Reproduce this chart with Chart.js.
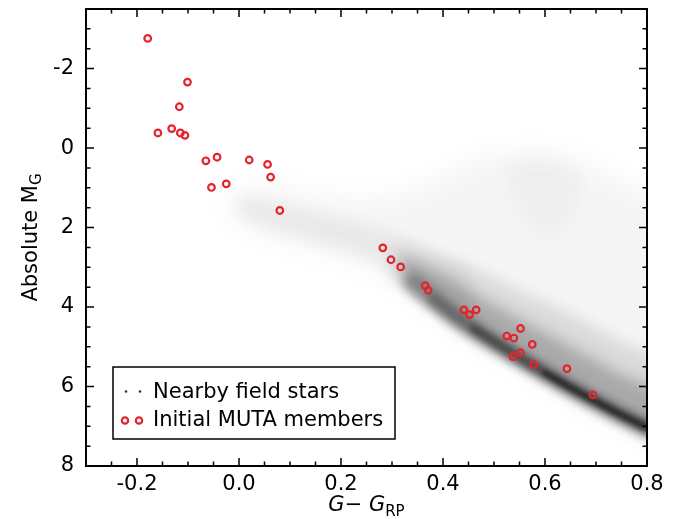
<!DOCTYPE html>
<html>
<head>
<meta charset="utf-8">
<script src="https://cdn.jsdelivr.net/npm/chart.js@4.4.1/dist/chart.umd.min.js"></script>
<style>
  html, body { margin: 0; padding: 0; background: #fff; }
  #cmd { display: block; }
</style>
</head>
<body>
<canvas id="cmd" width="694" height="519"></canvas>
<script>
// Gaia colour-magnitude diagram: field stars vs. initial MUTA members
const xTicks = [-0.2, 0.0, 0.2, 0.4, 0.6, 0.8];
const yTicks = [-2, 0, 2, 4, 6, 8];

// initial MUTA members (G - G_RP, M_G)
const memberColour = [
  -0.179, -0.101, -0.117, -0.159, -0.132, -0.115, -0.106, -0.065,
  -0.043, -0.054, -0.025, 0.020, 0.056, 0.062, 0.080, 0.282,
  0.298, 0.317, 0.365, 0.371, 0.441, 0.452, 0.465, 0.525,
  0.539, 0.552, 0.575, 0.552, 0.537, 0.578, 0.643, 0.694
];
const memberMag = [
  -2.76, -1.66, -1.04, -0.38, -0.49, -0.38, -0.32, 0.32,
  0.23, 0.99, 0.90, 0.30, 0.41, 0.73, 1.57, 2.51,
  2.81, 2.99, 3.46, 3.58, 4.07, 4.19, 4.07, 4.73,
  4.78, 4.54, 4.94, 5.15, 5.25, 5.45, 5.55, 6.21
];

// nearby field stars, as density outlines [colour, M_G]
const fieldHaze = [
  [-0.02, 1.15], [0.03, 0.95], [0.10, 1.05], [0.20, 1.25], [0.28, 1.25],
  [0.34, 1.05], [0.41, 0.6], [0.47, 0.25], [0.54, 0.1], [0.62, 0.1], [0.70, 0.5],
  [0.76, 0.9], [0.86, 1.4], [0.86, 7.6], [0.80, 7.3], [0.70, 6.65], [0.60, 5.9],
  [0.50, 5.15], [0.42, 4.5], [0.36, 3.9], [0.30, 3.3], [0.22, 2.85], [0.12, 2.45],
  [0.03, 2.1], [-0.02, 1.75]
];
const fieldGiants = [
  [0.52, 0.5], [0.56, 0.2], [0.62, 0.25], [0.67, 0.7], [0.66, 1.6], [0.62, 2.3],
  [0.57, 2.0], [0.53, 1.2]
];
const fieldUpperMS = [
  [0.0, 1.2], [0.05, 1.3], [0.15, 1.6], [0.25, 1.9], [0.32, 2.2], [0.38, 2.6],
  [0.45, 3.1], [0.45, 4.6], [0.38, 3.95], [0.32, 3.3], [0.25, 2.8], [0.15, 2.4],
  [0.05, 2.0], [0.0, 1.7]
];
const fieldBandOuter = [
  [0.30, 2.4], [0.38, 2.7], [0.45, 3.0], [0.55, 3.6], [0.65, 4.2], [0.75, 4.9],
  [0.86, 5.6], [0.86, 7.6], [0.75, 6.9], [0.65, 6.2], [0.55, 5.45], [0.45, 4.7],
  [0.38, 4.0], [0.30, 3.25]
];
const fieldBandInner = [
  [0.32, 2.75], [0.38, 3.1], [0.45, 3.6], [0.55, 4.3], [0.65, 5.0], [0.75, 5.7],
  [0.86, 6.4], [0.86, 7.5], [0.75, 6.85], [0.65, 6.15], [0.55, 5.4], [0.45, 4.65],
  [0.38, 4.0], [0.32, 3.35]
];
// main-sequence ridge line
const ridgeColour = [0.34, 0.38, 0.42, 0.46, 0.50, 0.55, 0.60, 0.65, 0.70, 0.75, 0.80, 0.86];
const ridgeMag = [3.4, 3.8, 4.2, 4.55, 4.88, 5.28, 5.66, 6.03, 6.38, 6.72, 7.03, 7.38];

const FONT = '"DejaVu Sans", "Liberation Sans", sans-serif';
const RED = 'rgb(228, 36, 44)';

const toPoints = (pairs) => pairs.map(([x, y]) => ({ x, y }));
const ridgePoints = ridgeColour.map((x, i) => ({ x, y: ridgeMag[i] }));

function densityShape(pairs, alpha, blur) {
  return {
    data: toPoints(pairs),
    showLine: true,
    fill: 'shape',
    backgroundColor: `rgba(0,0,0,${alpha})`,
    borderColor: 'rgba(0,0,0,0)',
    borderWidth: 0,
    pointRadius: 0,
    tension: 0.3,
    blur: blur,
  };
}

function ridgeLine(points, width, alpha, blur) {
  return {
    data: points,
    showLine: true,
    fill: false,
    borderColor: `rgba(0,0,0,${alpha})`,
    borderWidth: width,
    borderCapStyle: 'round',
    borderJoinStyle: 'round',
    pointRadius: 0,
    tension: 0.4,
    blur: blur,
  };
}

// soften field-star layers; must run before the filler so fills get blurred too
const softLayers = {
  id: 'softLayers',
  beforeDatasetDraw(chart, args) {
    const ds = chart.data.datasets[args.index];
    if (ds.blur) {
      chart.ctx.save();
      chart.ctx.filter = `blur(${ds.blur}px)`;
    }
  },
  afterDatasetDraw(chart, args) {
    const ds = chart.data.datasets[args.index];
    if (ds.blur) chart.ctx.restore();
  },
};
const filler = Chart.registry.getPlugin('filler');
Chart.unregister(filler);
Chart.register(softLayers, filler);

// inward ticks on all four sides, frame, axis titles and legend box
const frameAndLegend = {
  id: 'frameAndLegend',
  afterDatasetsDraw(chart) {
    const { ctx, chartArea: a, scales: { x, y } } = chart;
    ctx.save();
    ctx.strokeStyle = '#000';
    ctx.lineWidth = 1.5;
    const tickX = (v, len) => {
      const p = x.getPixelForValue(v);
      ctx.beginPath();
      ctx.moveTo(p, a.bottom); ctx.lineTo(p, a.bottom - len);
      ctx.moveTo(p, a.top); ctx.lineTo(p, a.top + len);
      ctx.stroke();
    };
    const tickY = (v, len) => {
      const p = y.getPixelForValue(v);
      ctx.beginPath();
      ctx.moveTo(a.left, p); ctx.lineTo(a.left + len, p);
      ctx.moveTo(a.right, p); ctx.lineTo(a.right - len, p);
      ctx.stroke();
    };
    xTicks.forEach((v) => tickX(v, 8));
    yTicks.forEach((v) => tickY(v, 8));
    for (let k = -5; k < 16; k++) if (k % 4 !== 0) tickX(k * 0.05, 4.5);
    for (let k = -6; k < 16; k++) if (k % 4 !== 0) tickY(k * 0.5, 4.5);

    ctx.lineWidth = 2;
    ctx.strokeRect(a.left, a.top, a.right - a.left, a.bottom - a.top);

    // x title: G - G_RP
    ctx.fillStyle = '#000';
    ctx.textBaseline = 'alphabetic';
    ctx.textAlign = 'left';
    const parts = [
      { t: 'G', f: `italic 21px ${FONT}`, dy: 0 },
      { t: '\u2212 ', f: `21px ${FONT}`, dy: 0 },
      { t: 'G', f: `italic 21px ${FONT}`, dy: 0 },
      { t: 'RP', f: `15px ${FONT}`, dy: 5 },
    ];
    let total = 0;
    parts.forEach((p) => { ctx.font = p.f; p.w = ctx.measureText(p.t).width; total += p.w; });
    let cx = (a.left + a.right) / 2 - total / 2;
    parts.forEach((p) => { ctx.font = p.f; ctx.fillText(p.t, cx, 511 + p.dy); cx += p.w; });

    // y title: Absolute M_G
    ctx.save();
    ctx.translate(37, (a.top + a.bottom) / 2);
    ctx.rotate(-Math.PI / 2);
    ctx.font = `21px ${FONT}`;
    const w1 = ctx.measureText('Absolute M').width;
    ctx.font = `15px ${FONT}`;
    const w2 = ctx.measureText('G').width;
    const sx = -(w1 + w2) / 2;
    ctx.font = `21px ${FONT}`;
    ctx.fillText('Absolute M', sx, 0);
    ctx.font = `15px ${FONT}`;
    ctx.fillText('G', sx + w1, 4);
    ctx.restore();

    // legend
    ctx.fillStyle = '#fff';
    ctx.fillRect(113, 367, 282, 72);
    ctx.lineWidth = 1.5;
    ctx.strokeRect(113, 367, 282, 72);
    ctx.fillStyle = '#333';
    [126, 140].forEach((px) => {
      ctx.beginPath(); ctx.arc(px, 391.5, 1.3, 0, Math.PI * 2); ctx.fill();
    });
    ctx.strokeStyle = RED;
    ctx.lineWidth = 2.2;
    [125, 139].forEach((px) => {
      ctx.beginPath(); ctx.arc(px, 420.5, 3.2, 0, Math.PI * 2); ctx.stroke();
    });
    ctx.fillStyle = '#000';
    ctx.font = `21px ${FONT}`;
    ctx.fillText('Nearby field stars', 153, 398);
    ctx.fillText('Initial MUTA members', 153, 426);
    ctx.restore();
  },
};

new Chart(document.getElementById('cmd'), {
  type: 'scatter',
  data: {
    datasets: [
      {
        label: 'Initial MUTA members',
        data: memberColour.map((x, i) => ({ x, y: memberMag[i] })),
        pointRadius: 3.3,
        pointBorderWidth: 2.2,
        pointBorderColor: RED,
        pointBackgroundColor: 'rgba(0,0,0,0)',
      },
      ridgeLine(ridgePoints.slice(6), 6, 0.45, 2),
      ridgeLine(ridgePoints.slice(3), 9, 0.35, 3),
      ridgeLine(ridgePoints.slice(1), 11, 0.25, 4),
      ridgeLine(ridgePoints, 18, 0.25, 5),
      densityShape(fieldBandInner, 0.22, 7),
      densityShape(fieldBandOuter, 0.12, 9),
      densityShape(fieldUpperMS, 0.05, 8),
      densityShape(fieldGiants, 0.03, 10),
      densityShape(fieldHaze, 0.04, 12),
    ],
  },
  options: {
    responsive: false,
    animation: false,
    events: [],
    layout: { padding: { top: 9, right: 47, left: 0, bottom: 0 } },
    plugins: {
      legend: { display: false },
      tooltip: { enabled: false },
    },
    scales: {
      x: {
        type: 'linear',
        min: -0.3,
        max: 0.8,
        afterBuildTicks: (axis) => { axis.ticks = xTicks.map((v) => ({ value: v })); },
        afterFit: (axis) => {
          axis.height = 53;
          axis.paddingLeft = 0;
          axis.paddingRight = 0;
        },
        grid: { display: false, drawTicks: false },
        border: { display: false },
        ticks: {
          autoSkip: false,
          maxRotation: 0,
          padding: 6,
          color: '#000',
          font: { family: FONT, size: 21 },
          callback: (v) => v.toFixed(1),
        },
      },
      y: {
        type: 'linear',
        reverse: true,
        min: -3.5,
        max: 8,
        afterBuildTicks: (axis) => { axis.ticks = yTicks.map((v) => ({ value: v })); },
        afterFit: (axis) => {
          axis.width = 86;
          axis.paddingTop = 0;
          axis.paddingBottom = 0;
        },
        grid: { display: false, drawTicks: false },
        border: { display: false },
        ticks: {
          autoSkip: false,
          padding: 12,
          color: '#000',
          font: { family: FONT, size: 21 },
          callback: (v) => String(v),
        },
      },
    },
  },
  plugins: [frameAndLegend],
});
</script>
</body>
</html>
